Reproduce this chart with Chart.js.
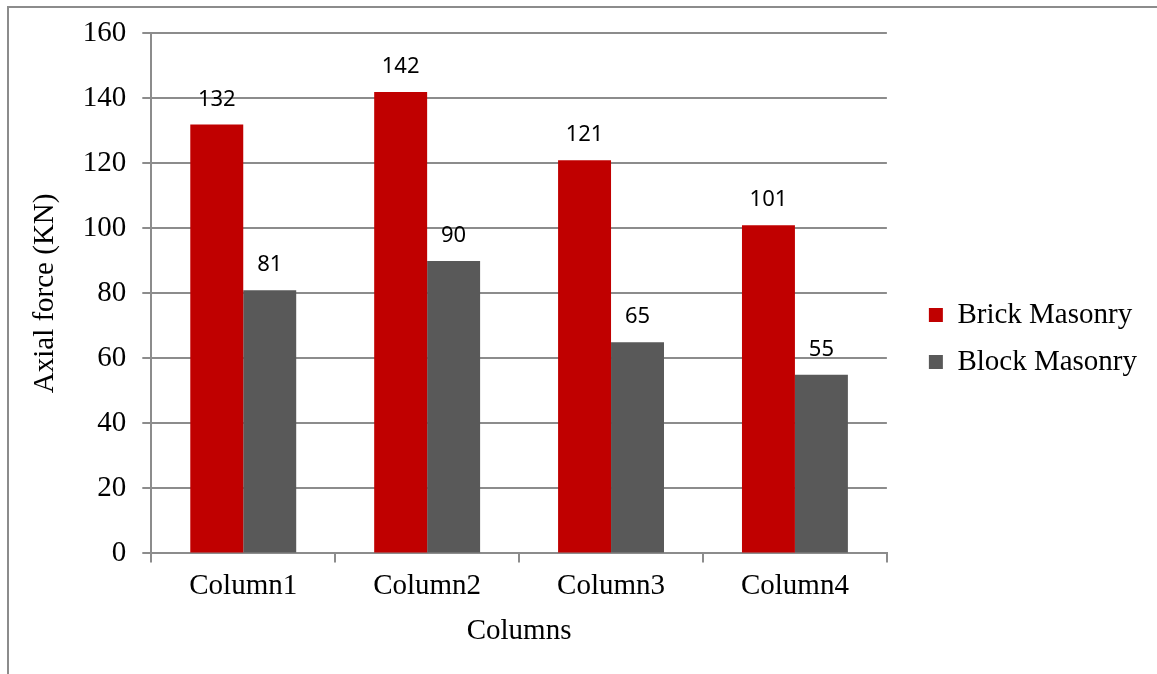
<!DOCTYPE html>
<html>
<head>
<meta charset="utf-8">
<script src="https://cdn.jsdelivr.net/npm/chart.js@4"></script>
<style>
    html, body { margin: 0; padding: 0; background: #fff; }
    #wrap { position: relative; width: 1157px; height: 674px; overflow: hidden; }
    #frame { position: absolute; left: 7px; top: 6px; width: 1300px; height: 800px; border: 2px solid #8c8c8c; }
    #chart { position: absolute; left: 0; top: 0; }
</style>
</head>
<body>
<div id="wrap">
    <div id="frame"></div>
    <canvas id="chart" width="1157" height="674"></canvas>
</div>
<script>
const categories = ['Column1', 'Column2', 'Column3', 'Column4'];
const brickMasonry = [132, 142, 121, 101];
const blockMasonry = [81, 90, 65, 55];
const yTicks = { min: 0, max: 160, step: 20 };

const serif = "'Liberation Serif', 'Times New Roman', serif";
const gridGray = '#8c8c8c';
const legendGap = 24; // extra room between plot and legend

// draws the value above each bar, using the bar elements from the library
const barValues = {
    id: 'barValues',
    afterDatasetsDraw(chart) {
        const ctx = chart.ctx;
        ctx.save();
        ctx.font = "22px 'Noto Sans', sans-serif";
        ctx.fillStyle = '#000';
        ctx.textAlign = 'center';
        ctx.textBaseline = 'middle';
        chart.data.datasets.forEach((ds, i) => {
            chart.getDatasetMeta(i).data.forEach((bar, j) => {
                ctx.fillText(ds.data[j], bar.x, bar.y - 25);
            });
        });
        ctx.restore();
    }
};

// widens the legend box and pushes its items right, leaving a gap after the plot
const legendSpacer = {
    id: 'legendSpacer',
    beforeLayout(chart) {
        const lg = chart.legend;
        if (lg && !lg._spaced) {
            const fit = lg.fit;
            lg.fit = function () { fit.call(this); this.width += legendGap; };
            lg._spaced = true;
        }
    },
    afterLayout(chart) {
        if (chart.legend) chart.legend.left += legendGap;
    }
};

new Chart(document.getElementById('chart').getContext('2d'), {
    type: 'bar',
    data: {
        labels: categories,
        datasets: [
            { label: 'Brick Masonry', data: brickMasonry, backgroundColor: '#c00000' },
            { label: 'Block Masonry', data: blockMasonry, backgroundColor: '#595959' }
        ]
    },
    options: {
        responsive: false,
        animation: false,
        datasets: { bar: { categoryPercentage: 0.576, barPercentage: 1.0 } },
        layout: { padding: { top: 28, left: 28, right: 10, bottom: 25 } },
        plugins: {
            tooltip: { enabled: false },
            legend: {
                position: 'right',
                labels: {
                    boxWidth: 14,
                    boxHeight: 14,
                    padding: 18,
                    color: '#000',
                    font: { family: serif, size: 29 }
                }
            }
        },
        scales: {
            x: {
                grid: { display: true, drawOnChartArea: false, drawTicks: true, tickLength: 9, color: gridGray, lineWidth: 2, offset: true },
                border: { display: true, color: gridGray, width: 2 },
                ticks: { color: '#000', font: { family: serif, size: 29 }, padding: 7 },
                title: { display: true, text: 'Columns', color: '#000', font: { family: serif, size: 29 }, padding: { top: 3, bottom: 0 } }
            },
            y: {
                min: yTicks.min,
                max: yTicks.max,
                grid: { color: gridGray, lineWidth: 2, tickLength: 9 },
                border: { display: true, color: gridGray, width: 2 },
                ticks: { stepSize: yTicks.step, color: '#000', font: { family: serif, size: 29 }, padding: 16 },
                title: { display: true, text: 'Axial force (KN)', color: '#000', font: { family: serif, size: 29 }, padding: { top: 0, bottom: 4 } }
            }
        }
    },
    plugins: [barValues, legendSpacer]
});
</script>
</body>
</html>
